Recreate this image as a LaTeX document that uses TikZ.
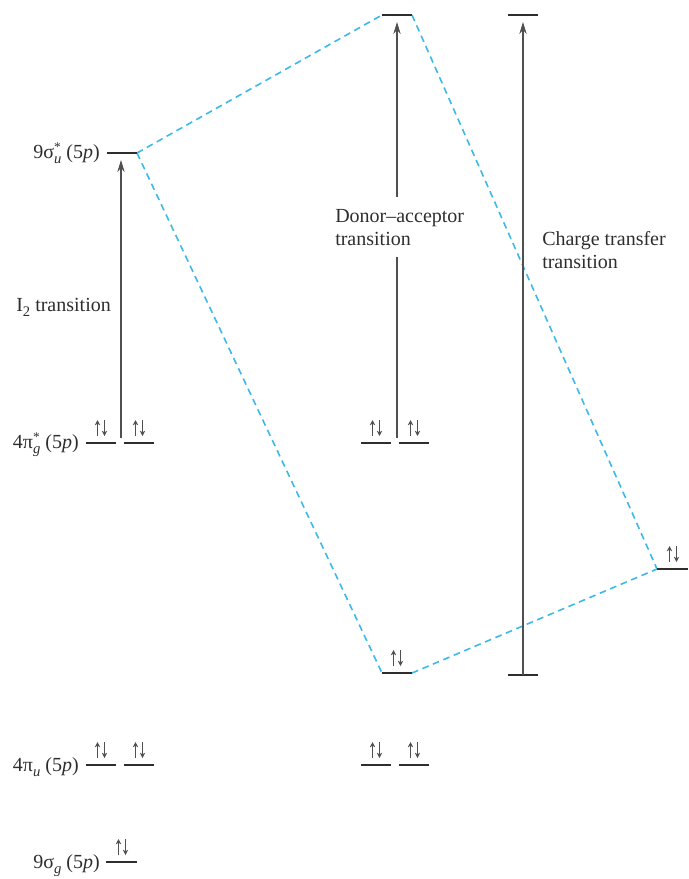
\documentclass[tikz,border=0pt]{standalone}
\usepackage{fontspec}
\setmainfont{Liberation Serif}
\usetikzlibrary{arrows.meta}
\definecolor{lvl}{HTML}{2E2E2E}
\definecolor{arr}{HTML}{505050}
\definecolor{corr}{HTML}{3CB9EA}
\newcommand{\supsub}[2]{\makebox[0pt][l]{\raisebox{0.75ex}{\fontsize{10}{10}\selectfont #1}}\raisebox{-0.6ex}{\fontsize{11}{11}\selectfont\itshape #2}}
\newcommand{\lsub}[1]{\raisebox{-0.6ex}{\fontsize{11}{11}\selectfont #1}}
\newcommand{\lsubit}[1]{\raisebox{-0.6ex}{\fontsize{11}{11}\selectfont\itshape #1}}
\newcommand{\epair}[2]{%
  \draw[elec] (#1-3.5,#2-7) -- (#1-3.5,#2-23);
  \draw[elec] (#1+3.5,#2-23) -- (#1+3.5,#2-7);}
\begin{document}
\begin{tikzpicture}[x=0.75pt,y=-0.75pt,
  level/.style={draw=lvl,line width=2pt},
  trans/.style={draw=arr,line width=0.9pt,-{Stealth[length=9pt,width=5.5pt]}},
  plainline/.style={draw=arr,line width=0.9pt},
  corrline/.style={draw=corr,line width=1.2pt,dash pattern=on 5pt off 3.5pt},
  elec/.style={draw=arr,line width=0.9pt,-{Stealth[length=4pt,width=4pt]}},
  lab/.style={font=\fontsize{15}{17}\selectfont,text=lvl,inner sep=0pt}]
\useasboundingbox (0,0) rectangle (689,879);

% level end points
\coordinate (suL) at (107,153);  \coordinate (suR) at (137,153);
\coordinate (daL) at (382,15);   \coordinate (daR) at (412,15);
\coordinate (ctL) at (508,15);   \coordinate (ctR) at (538,15);
\coordinate (pg1L) at (86,443);  \coordinate (pg1R) at (116,443);
\coordinate (pg2L) at (124,443); \coordinate (pg2R) at (154,443);
\coordinate (mg1L) at (361,443); \coordinate (mg1R) at (391,443);
\coordinate (mg2L) at (399,443); \coordinate (mg2R) at (429,443);
\coordinate (rL) at (657,569);   \coordinate (rR) at (688,569);
\coordinate (bL) at (382,673);   \coordinate (bR) at (412,673);
\coordinate (cbL) at (508,675);  \coordinate (cbR) at (538,675);
\coordinate (pu1L) at (86,765);  \coordinate (pu1R) at (116,765);
\coordinate (pu2L) at (124,765); \coordinate (pu2R) at (154,765);
\coordinate (mu1L) at (361,765); \coordinate (mu1R) at (391,765);
\coordinate (mu2L) at (399,765); \coordinate (mu2R) at (429,765);
\coordinate (sgL) at (106,862);  \coordinate (sgR) at (137,862);

% correlation lines
\draw[corrline] (suR) -- (daL);
\draw[corrline] (daR) -- (rL);
\draw[corrline] (suR) -- (bL);
\draw[corrline] (bR) -- (rL);

% levels
\foreach \a/\b in {suL/suR,daL/daR,ctL/ctR,pg1L/pg1R,pg2L/pg2R,mg1L/mg1R,mg2L/mg2R,rL/rR,bL/bR,cbL/cbR,pu1L/pu1R,pu2L/pu2R,mu1L/mu1R,mu2L/mu2R,sgL/sgR}
  \draw[level] (\a) -- (\b);

% transitions
\coordinate (i2s) at (121,438); \coordinate (i2e) at (121,160);
\draw[trans] (i2s) -- (i2e);
\coordinate (das) at (397,438); \coordinate (dag1) at (397,257);
\coordinate (dag2) at (397,197); \coordinate (dae) at (397,22);
\draw[plainline] (das) -- (dag1);
\draw[trans] (dag2) -- (dae);
\coordinate (cts) at (523,675); \coordinate (cte) at (523,22);
\draw[trans] (cts) -- (cte);

% electron pairs
\epair{101}{443} \epair{139}{443}
\epair{376}{443} \epair{414}{443}
\epair{397}{673} \epair{673}{569}
\epair{101}{765} \epair{139}{765}
\epair{376}{765} \epair{414}{765}
\epair{122}{862}

% labels
\node[lab,anchor=base east] (lsu) at (100,158) {9σ\supsub{*}{u} (5\textit{p})};
\node[lab,anchor=base east] (lpg) at (79,448) {4π\supsub{*}{g} (5\textit{p})};
\node[lab,anchor=base east] (lpu) at (79,771) {4π\lsubit{u} (5\textit{p})};
\node[lab,anchor=base east] (lsg) at (100,868) {9σ\lsubit{g} (5\textit{p})};
\node[lab,anchor=base west] (li2) at (16,311) {I\lsub{2} transition};
\node[lab,anchor=north west,align=left] (lda) at (335,209) {Donor–acceptor\\transition};
\node[lab,anchor=north west,align=left] (lct) at (542,231) {Charge transfer\\transition};
\end{tikzpicture}
\end{document}
